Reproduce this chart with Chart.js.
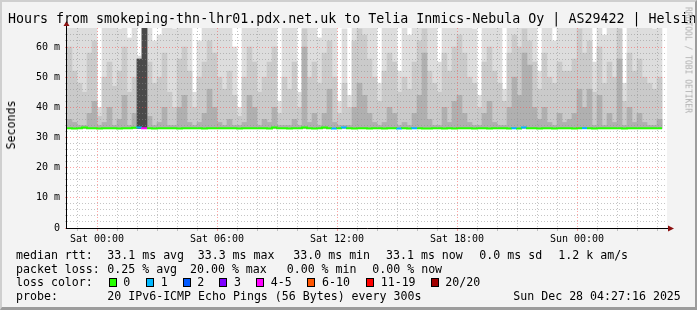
<!DOCTYPE html>
<html>
<head>
<meta charset="utf-8">
<script src="https://cdn.jsdelivr.net/npm/chart.js@4/dist/chart.umd.min.js"></script>
<style>
  html, body { margin: 0; padding: 0; }
  body { width: 697px; height: 310px; overflow: hidden; background: #f3f3f3; }
  #wrap { position: relative; width: 697px; height: 310px; overflow: hidden; }
  #chart { position: absolute; left: 0; top: 0; }
  .t { position: absolute; font-family: 'DejaVu Sans Mono', monospace; font-size: 11.6px;
       line-height: 14px; white-space: pre; color: #000; }
  .box { position: absolute; width: 8px; height: 9px; box-sizing: border-box; border: 1px solid #000; }
  #edge { position: absolute; left: 0; top: 0; width: 697px; height: 310px; box-sizing: border-box;
          border-top: 2px solid #cfcfcf; border-left: 2px solid #cfcfcf;
          border-right: 2px solid #9c9c9c; border-bottom: 3px solid #9c9c9c; pointer-events: none; }
</style>
</head>
<body>
<div id="wrap">
  <canvas id="chart" width="697" height="310"></canvas>
  <div class="t" style="left:8px;top:11px;font-size:13.3px;line-height:16px;">Hours from smokeping-thn-lhr01.pdx.net.uk to Telia Inmics-Nebula Oy | AS29422 | Helsinki</div>
  <div class="t" style="left:11px;top:125px;transform:translate(-50%,-50%) rotate(-90deg);">Seconds</div>
  <div class="t" style="left:688px;top:60px;font-size:8px;line-height:9px;color:#b0b0b0;transform:translate(-50%,-50%) rotate(90deg);">RRDTOOL / TOBI OETIKER</div>
  <div id="legend"></div>
  <div id="edge"></div>
</div>
<script>
// time axis in hours from Sat 00:00, one smoke column = 15 min
const START = -1.5;
const END = 28.5;
const STEP = 0.25;
const SMOKE_BASE = 33;

// smoke: highest ping, 2nd highest, 3rd highest per column (ms)
const smokeMax = [
  70,70,70,70,70,70,40,70,70,70, 66,70,63,70,57,70,70,62,64,70,
  70,66,70,70,70,45,62,70,70,70, 70,70,70,60,40,70,70,70,70,70,
  70,70,42,70,70,70,45,70,70,70, 63,70,70,70,42,66,44,70,70,70,
  70,70,48,70,70,70,52,70,64,70, 70,70,70,70,55,70,70,70,70,70,
  70,66,44,70,70,70,70,46,70,70, 70,70,70,70,52,70,70,62,70,70,
  70,70,70,70,70,55,70,64,70,70, 70,48,70,70,70,70,70,66,70
];
const smokeMid = [
  60,52,48,45,58,62,37,50,55,47, 52,60,45,50,56,70,55,48,50,58,
  45,40,56,60,52,40,50,55,62,58, 50,46,52,44,37,50,60,55,45,50,
  55,60,38,50,46,55,40,66,50,55, 48,58,62,50,38,48,40,62,66,64,
  56,50,42,52,58,55,45,50,46,55, 62,66,52,48,45,58,52,60,64,58,
  50,48,40,55,60,52,48,42,58,64, 60,66,62,55,46,58,50,48,55,52,
  52,56,66,58,62,45,60,48,55,50, 66,42,58,52,56,50,48,46,50
];
const smokeLow = [
  36,35,34,34,38,42,34,35,40,34, 36,44,34,38,56,70,37,34,35,40,
  34,34,40,44,35,34,35,38,46,40, 35,34,36,34,34,35,44,40,34,36,
  35,40,34,34,34,36,34,60,35,38, 34,38,46,35,34,34,34,40,48,44,
  38,35,34,35,40,38,34,35,34,38, 44,58,36,34,34,40,35,42,44,38,
  35,34,34,38,42,35,34,34,40,50, 44,58,54,40,36,40,35,34,38,35,
  36,38,46,40,46,34,44,34,38,35, 56,34,40,35,38,35,34,34,36
];
// dense dark smoke during the loss episode
const darkCols = [14, 15];
const darkTops = [56, 70];

// median rtt per column (ms)
const median = [
  33.1,33.1,33.0,33.1,33.3,33.1,33.1,33.0,33.1,33.1, 33.1,33.0,33.1,33.1,33.2,33.3,33.1,33.1,33.0,33.1,
  33.1,33.1,33.1,33.0,33.1,33.1,33.1,33.1,33.0,33.1, 33.1,33.1,33.1,33.1,33.1,33.0,33.1,33.1,33.1,33.1,
  33.1,33.0,33.3,33.1,33.1,33.0,33.1,33.1,33.3,33.1, 33.0,33.1,33.3,33.1,33.0,33.1,33.3,33.1,33.0,33.1,
  33.1,33.0,33.1,33.1,33.0,33.1,33.1,33.0,33.1,33.0, 33.1,33.1,33.0,33.0,33.1,33.1,33.0,33.1,33.0,33.1,
  33.1,33.1,33.0,33.1,33.1,33.0,33.1,33.1,33.1,33.0, 33.1,33.0,33.3,33.1,33.1,33.0,33.1,33.1,33.0,33.1,
  33.1,33.1,33.0,33.1,33.1,33.1,33.0,33.1,33.1,33.1, 33.1,33.1,33.0,33.1,33.1,33.1,33.1,33.1,33.1
];
// loss class per column (index into lossColors)
const lossClass = [
  0,0,0,0,0,0,0,0,0,0, 0,0,0,0,1,4,0,0,0,0,
  0,0,0,0,0,0,0,0,0,0, 0,0,0,0,0,0,0,0,0,0,
  0,0,0,0,0,0,0,0,0,0, 0,0,0,1,0,1,0,0,0,0,
  0,0,0,0,0,0,1,0,0,1, 0,0,0,0,0,0,0,0,0,0,
  0,0,0,0,0,0,0,0,0,1, 0,1,0,0,0,0,0,0,0,0,
  0,0,0,1,0,0,0,0,0,0, 0,0,0,0,0,0,0,0,0
];

const xGridHours = [-1, 0, 1, 2, 3, 4, 5, 6, 7, 8, 9, 10, 11, 12, 13, 14, 15, 16, 17, 18, 19, 20, 21, 22, 23, 24, 25, 26, 27, 28];
const xTickHours = [0, 6, 12, 18, 24];
const xTickLabels = ['Sat 00:00', 'Sat 06:00', 'Sat 12:00', 'Sat 18:00', 'Sun 00:00'];
const yTickValues = [0, 10, 20, 30, 40, 50, 60];
const yTickLabels = ['0', '10 m', '20 m', '30 m', '40 m', '50 m', '60 m'];

const lossLabels = ['0', '1', '2', '3', '4-5', '6-10', '11-19', '20/20'];
const lossColors = ['#26ff00', '#00b8ff', '#0059ff', '#7e00ff', '#ff00ff', '#ff5500', '#ff0000', '#a10000'];

// legend text blocks: [left, text]
const legendRows = [
  { y: 247.5, items: [[16, 'median rtt:'], [107.3, '33.1 ms avg'], [197.7, '33.3 ms max'], [293.3, '33.0 ms min'], [386, '33.1 ms now'], [479.3, '0.0 ms sd'], [558.3, '1.2 k am/s']] },
  { y: 261.5, items: [[16, 'packet loss:'], [107.3, '0.25 % avg'], [190, '20.00 % max'], [286.7, '0.00 % min'], [372.3, '0.00 % now']] },
  { y: 275, items: [[16, 'loss color:']] },
  { y: 289, items: [[16, 'probe:'], [107.3, '20 IPv6-ICMP Echo Pings (56 Bytes) every 300s'], [513.3, 'Sun Dec 28 04:27:16 2025']] },
];
const lossBoxX = [109, 146, 182.7, 219.3, 256, 307.3, 365.7, 430.7];
const lossTextX = [123.3, 160.7, 197.3, 234, 270.7, 322, 380.7, 445.3];

// ---- legend html
const legend = document.getElementById('legend');
legendRows.forEach(row => {
  row.items.forEach(([x, txt]) => {
    const d = document.createElement('div');
    d.className = 't';
    d.style.left = x + 'px';
    d.style.top = row.y + 'px';
    d.textContent = txt;
    legend.appendChild(d);
  });
});
lossLabels.forEach((lab, i) => {
  const b = document.createElement('div');
  b.className = 'box';
  b.style.left = lossBoxX[i] + 'px';
  b.style.top = '278px';
  b.style.background = lossColors[i];
  legend.appendChild(b);
  const d = document.createElement('div');
  d.className = 't';
  d.style.left = lossTextX[i] + 'px';
  d.style.top = '275px';
  d.textContent = lab;
  legend.appendChild(d);
});

// ---- chart
function smoke(values, color, order) {
  const data = values.map((v, i) => ({ x: START + STEP * (i + 0.5), y: [SMOKE_BASE, v] }));
  return { type: 'bar', data, backgroundColor: color, borderWidth: 0, grouped: false,
           barPercentage: 1, categoryPercentage: 1, order };
}

const darkData = darkCols.map((c, k) => ({ x: START + STEP * (c + 0.5), y: [SMOKE_BASE, darkTops[k]] }));
const lineData = median.map((v, i) => ({ x: START + STEP * i, y: v }));
lineData.push({ x: START + STEP * median.length, y: median[median.length - 1] });

const rrdFrame = {
  id: 'rrdFrame',
  beforeDraw(chart) {
    const a = chart.chartArea, ctx = chart.ctx;
    ctx.save();
    ctx.fillStyle = '#ffffff';
    ctx.fillRect(a.left, a.top, a.right - a.left, a.bottom - a.top);
    ctx.restore();
  },
  afterDraw(chart) {
    const a = chart.chartArea, ctx = chart.ctx;
    ctx.save();
    ctx.strokeStyle = '#000';
    ctx.lineWidth = 1;
    ctx.beginPath();
    ctx.moveTo(a.left - 0.5, a.bottom + 0.5);
    ctx.lineTo(a.left - 0.5, a.top - 3);
    ctx.moveTo(a.left - 1, a.bottom + 0.5);
    ctx.lineTo(a.right + 2, a.bottom + 0.5);
    ctx.stroke();
    ctx.fillStyle = '#8b1010';
    ctx.beginPath();
    ctx.moveTo(a.left - 3.5, a.top - 2);
    ctx.lineTo(a.left + 2.5, a.top - 2);
    ctx.lineTo(a.left - 0.5, a.top - 7);
    ctx.closePath();
    ctx.fill();
    ctx.beginPath();
    ctx.moveTo(a.right + 1, a.bottom - 2.5);
    ctx.lineTo(a.right + 1, a.bottom + 3.5);
    ctx.lineTo(a.right + 7, a.bottom + 0.5);
    ctx.closePath();
    ctx.fill();
    ctx.restore();
  }
};

const MAJOR = 'rgba(255,70,70,0.5)';
const MINOR = 'rgba(140,140,140,0.5)';

Chart.defaults.font.family = "'DejaVu Sans Mono', monospace";
Chart.defaults.font.size = 10;
Chart.defaults.color = '#000';

new Chart(document.getElementById('chart'), {
  type: 'bar',
  data: {
    datasets: [
      smoke(smokeMax, '#dddddd', 6),
      smoke(smokeMid, '#cacaca', 5),
      smoke(smokeLow, '#b0b0b0', 4),
      { type: 'bar', data: darkData, backgroundColor: '#4a4a4a', borderWidth: 0, grouped: false,
        barPercentage: 1, categoryPercentage: 1, order: 3 },
      { type: 'line', data: lineData, borderColor: lossColors[0], borderWidth: 2, pointRadius: 0,
        stepped: 'after', order: 0,
        segment: { borderColor: ctx => lossColors[lossClass[ctx.p0DataIndex]] || lossColors[0] } },
    ]
  },
  options: {
    responsive: false,
    animation: false,
    layout: { padding: { left: 0, top: 28, right: 30, bottom: 0 } },
    plugins: { legend: { display: false }, tooltip: { enabled: false } },
    scales: {
      x: {
        type: 'linear', min: START, max: END, offset: false,
        afterFit: s => { s.height = 82; },
        afterBuildTicks: s => { s.ticks = xGridHours.map(v => ({ value: v })); },
        ticks: {
          autoSkip: false, maxRotation: 0, padding: 2,
          callback: v => { const k = xTickHours.indexOf(v); return k < 0 ? '' : xTickLabels[k]; }
        },
        grid: {
          z: 1, offset: false, lineWidth: 1, tickLength: 3,
          color: c => (c.tick && c.tick.value % 6 === 0) ? MAJOR : MINOR,
          tickColor: c => (c.tick && c.tick.value % 6 === 0) ? MAJOR : MINOR
        },
        border: { display: false, dash: [1, 2] }
      },
      y: {
        min: 0, max: 66.3,
        afterFit: s => { s.width = 67; },
        afterBuildTicks: s => { s.ticks = s.ticks.filter(t => Number.isInteger(t.value)); },
        ticks: {
          stepSize: 2, autoSkip: false, padding: 5,
          callback: v => { const k = yTickValues.indexOf(v); return k < 0 ? '' : yTickLabels[k]; }
        },
        grid: {
          z: 1, lineWidth: 1, tickLength: 2,
          color: c => (c.tick && c.tick.value % 10 === 0) ? MAJOR : MINOR,
          tickColor: c => (c.tick && c.tick.value % 10 === 0) ? MAJOR : MINOR
        },
        border: { display: false, dash: [1, 2] }
      }
    }
  },
  plugins: [rrdFrame]
});
</script>
</body>
</html>
